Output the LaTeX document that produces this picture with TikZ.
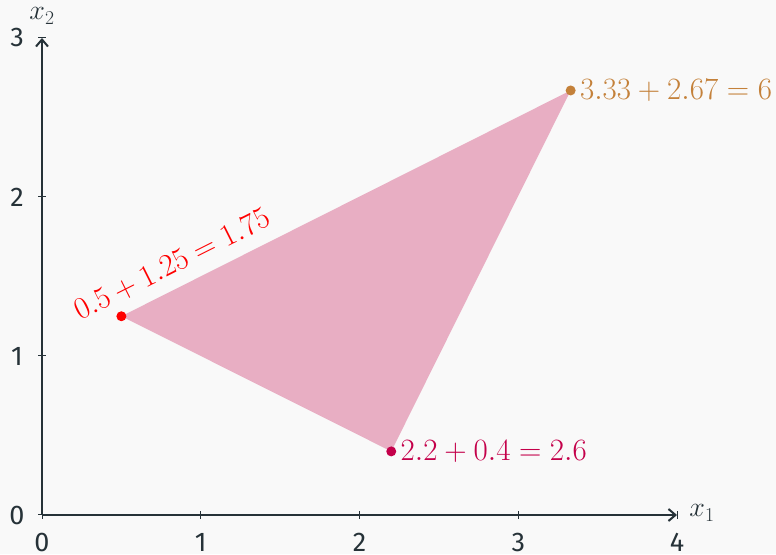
\RequirePackage{fix-cm}
\documentclass[tikz,border=0pt]{standalone}
\usepackage{fontspec}
\setsansfont{Fira Sans}
\usetikzlibrary{arrows.meta}
\definecolor{bg}{HTML}{F9F9F9}
\definecolor{axiscol}{HTML}{263238}
\definecolor{fillpink}{HTML}{E8AEC3}
\definecolor{bronze}{HTML}{C4813A}
\definecolor{crim}{HTML}{C4004A}
\begin{document}
\begin{tikzpicture}[x=158.75pt,y=159pt,
  axis/.style={draw=axiscol,line width=2.6pt,-{Straight Barb[length=7pt,width=12pt,line width=2pt]}},
  tick/.style={draw=axiscol,line width=1pt},
  ticklab/.style={font=\sffamily\fontsize{27}{32}\selectfont,text=axiscol,inner sep=0pt},
  mathlab/.style={font=\fontsize{31}{36}\selectfont,inner sep=2pt},
  axlab/.style={font=\fontsize{28}{33}\selectfont,text=axiscol,inner sep=0pt},
  dot/.style={circle,fill,inner sep=0pt,minimum size=10pt}]
\path[fill=bg,use as bounding box] (-0.2646,-0.2453) rectangle (4.6236,3.2390);
\coordinate (O) at (0,0);
\coordinate (X) at (4,0);
\coordinate (Y) at (0,3);
\coordinate (A) at (0.5,1.25);
\coordinate (B) at (2.2,0.4);
\coordinate (C) at (3.33,2.67);
\fill[fillpink] (A) -- (B) -- (C) -- cycle;
\foreach \i in {0,...,4} {\draw[tick] (\i,-4pt) -- (\i,4pt);
  \node[ticklab] (xt\i) at ([yshift=-27pt]\i,0) {\i};}
\foreach \i in {0,...,3} {\draw[tick] (-4pt,\i) -- (4pt,\i);
  \node[ticklab] (yt\i) at ([xshift=-25pt]0,\i) {\i};}
\draw[axis] (O) -- (X);
\draw[axis] (O) -- (Y);
\node[axlab] (xl) at ([xshift=25pt,yshift=2pt]X) {$x_1$};
\node[axlab] (yl) at ([yshift=22pt]Y) {$x_2$};
\node[dot,red] (pa) at (A) {};
\node[dot,crim] (pb) at (B) {};
\node[dot,bronze] (pc) at (C) {};
\node[mathlab,text=red,rotate=26.66] (la) at (0.819,1.575) {$0.5+1.25=1.75$};
\node[mathlab,text=crim,anchor=west] (lb) at ([xshift=2pt]pb.east) {$2.2+0.4=2.6$};
\node[mathlab,text=bronze,anchor=west] (lc) at ([xshift=2pt]pc.east) {$3.33+2.67=6$};
\end{tikzpicture}
\end{document}
